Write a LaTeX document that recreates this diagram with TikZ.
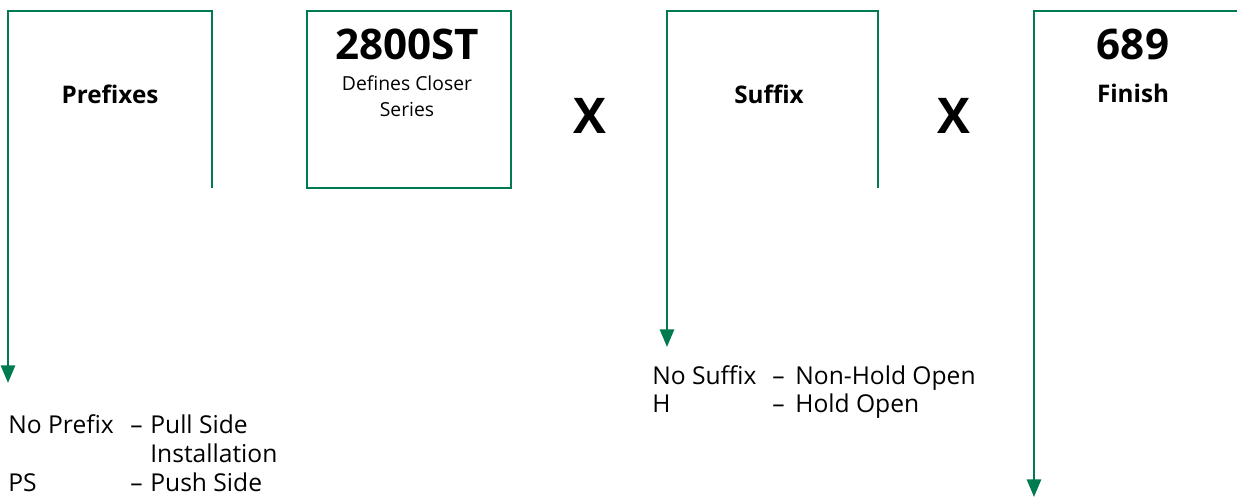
\documentclass[tikz,border=0pt]{standalone}
\usepackage{fontspec}
\setmainfont{Open Sans}
\usepackage{tikz}
\usetikzlibrary{arrows.meta, positioning}
\usepackage{xcolor}
\definecolor{code-green}{HTML}{007A4F}

\begin{document}
\begin{tikzpicture}[x=0.02cm, y=-0.02cm,
    bracket/.style={draw=code-green, line width=1.4pt},
    pointer/.style={bracket, -{Triangle[width=8pt, length=10pt]}},
    heading/.style={font=\fontsize{13.8}{17}\selectfont\bfseries, inner sep=0pt, anchor=base},
    code/.style={font=\fontsize{24}{28}\selectfont\bfseries, inner sep=0pt, anchor=base},
    times/.style={font=\fontsize{28}{32}\selectfont\bfseries, inner sep=0pt},
    note/.style={font=\fontsize{11}{14}\selectfont, inner sep=0pt, anchor=base},
    entry/.style={font=\fontsize{14}{16.5}\selectfont, inner sep=0pt, anchor=base west}]
  \useasboundingbox (0,0) rectangle (1237,499);

  % corners of the frames
  \coordinate (pre-end) at (8,383);
  \coordinate (pre-tl) at (8,11);
  \coordinate (pre-tr) at (212,11);
  \coordinate (pre-br) at (212,188);
  \coordinate (suf-end) at (667,347);
  \coordinate (suf-tl) at (667,11);
  \coordinate (suf-tr) at (878,11);
  \coordinate (suf-br) at (878,188);
  \coordinate (fin-end) at (1034,497);
  \coordinate (fin-tl) at (1034,11);
  \coordinate (fin-tr) at (1237,11);

  \draw[pointer] (pre-br) -- (pre-tr) -- (pre-tl) -- (pre-end);
  \draw[pointer] (suf-br) -- (suf-tr) -- (suf-tl) -- (suf-end);
  \draw[pointer] (fin-tr) -- (fin-tl) -- (fin-end);
  \node[bracket, minimum width=204*0.02cm, minimum height=177*0.02cm, inner sep=0pt]
    (series) at (409,99.5) {};

  % headings
  \node[heading] (prefixes) at (110,104) {Prefixes};
  \node[code] (model) at (407,60) {2800ST};
  \node[note] (series-a) at (407,91) {Defines Closer};
  \node[note] (series-b) at (407,117) {Series};
  \node[times] (times-a) at (590,116) {X};
  \node[heading] (suffix) at (769,104) {Suffix};
  \node[times] (times-b) at (954,116) {X};
  \node[code] (finish-code) at (1133,60) {689};
  \node[heading] (finish) at (1133,103) {Finish};

  % prefix options
  \node[entry] (pre-none) at (8,434) {No Prefix};
  \node[entry] (pre-none-dash) at (130,434) {--};
  \node[entry] (pre-none-text) at (150,434) {Pull Side};
  \node[entry] (pre-none-more) at (150,463) {Installation};
  \node[entry] (pre-ps) at (8,492) {PS};
  \node[entry] (pre-ps-dash) at (130,492) {--};
  \node[entry] (pre-ps-text) at (150,492) {Push Side};

  % suffix options
  \node[entry] (suf-none) at (652,385) {No Suffix};
  \node[entry] (suf-none-dash) at (772,385) {--};
  \node[entry] (suf-none-text) at (795,385) {Non-Hold Open};
  \node[entry] (suf-h) at (652,413) {H};
  \node[entry] (suf-h-dash) at (772,413) {--};
  \node[entry] (suf-h-text) at (795,413) {Hold Open};
\end{tikzpicture}
\end{document}
